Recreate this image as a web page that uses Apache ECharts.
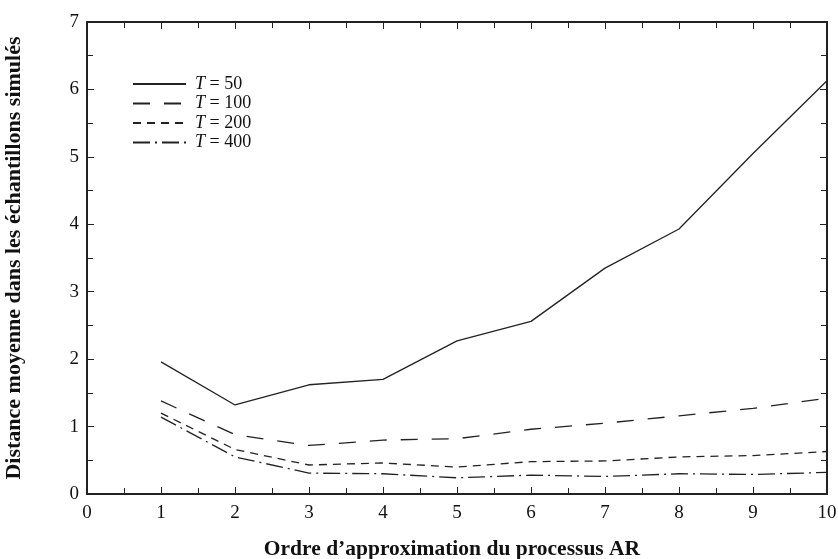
<!DOCTYPE html>
<html>
<head>
<meta charset="utf-8">
<script src="https://cdn.jsdelivr.net/npm/echarts@6/dist/echarts.min.js"></script>
<style>html,body{margin:0;padding:0;background:#fff;}#c{width:838px;height:559px;}</style>
</head>
<body>
<div id="c"></div>
<script>
var orders = [1, 2, 3, 4, 5, 6, 7, 8, 9, 10];
var t50  = [1.96, 1.32, 1.62, 1.70, 2.27, 2.56, 3.35, 3.93, 5.05, 6.13];
var t100 = [1.38, 0.88, 0.72, 0.80, 0.82, 0.96, 1.05, 1.16, 1.27, 1.42];
var t200 = [1.20, 0.66, 0.43, 0.46, 0.40, 0.48, 0.49, 0.55, 0.57, 0.63];
var t400 = [1.14, 0.55, 0.31, 0.30, 0.24, 0.28, 0.26, 0.30, 0.29, 0.32];
var seriesNames = ['T = 50', 'T = 100', 'T = 200', 'T = 400'];

function pairs(arr){ return orders.map(function(o,i){ return [o, arr[i]]; }); }
var font = 'Liberation Serif';
var axisCommon = {
  type: 'value', min: 0,
  axisLine: {show: true, onZero: false, lineStyle: {color: '#222', width: 2}},
  axisTick: {show: true, inside: true, length: 7, lineStyle: {color: '#222', width: 1}},
  minorTick: {show: true, splitNumber: 2, length: 6, lineStyle: {color: '#222', width: 1}},
  splitLine: {show: false},
  minorSplitLine: {show: false},
  axisLabel: {color: '#111', fontFamily: font, fontSize: 19}
};
function mk(o){
  var a = JSON.parse(JSON.stringify(axisCommon));
  for (var k in o) a[k] = o[k];
  return a;
}
var styles = [
  {type: 'solid'},
  {type: [17, 14]},
  {type: [8, 6]},
  {type: [17, 5, 2, 5]}
];
var data = [t50, t100, t200, t400];
var chart = echarts.init(document.getElementById('c'));
chart.setOption({
  animation: false,
  backgroundColor: '#fff',
  grid: {left: 87, right: 11, top: 22, bottom: 65, containLabel: false, outerBoundsMode: 'none'},
  legend: {
    left: 127, top: 70, orient: 'vertical', itemWidth: 53, itemHeight: 10, itemGap: 1.5,
    data: seriesNames,
    itemStyle: {opacity: 0},
    formatter: function(n){ return '{i|T}{n|' + n.slice(1) + '}'; },
    textStyle: {color: '#111', fontFamily: font, fontSize: 18,
      rich: {
        i: {fontStyle: 'italic', fontFamily: font, fontSize: 18, color: '#111', padding: [0, 0, 0, 4]},
        n: {fontFamily: font, fontSize: 18, color: '#111'}
      }}
  },
  xAxis: [
    mk({max: 10, interval: 1, position: 'bottom',
      axisLabel: {color: '#111', fontFamily: font, fontSize: 19, margin: 10},
      name: 'Ordre d\u2019approximation du processus AR', nameLocation: 'middle', nameGap: 44,
      nameTextStyle: {fontFamily: font, fontWeight: 'bold', fontSize: 21.5, color: '#111', padding: [0, 10, 0, 0]}}),
    mk({max: 10, interval: 1, position: 'top', axisLabel: {show: false}})
  ],
  yAxis: [
    mk({max: 7, interval: 1, position: 'left',
      name: 'Distance moyenne dans les \u00e9chantillons simul\u00e9s', nameLocation: 'middle', nameGap: 62,
      nameTextStyle: {fontFamily: font, fontWeight: 'bold', fontSize: 22, color: '#111'}}),
    mk({max: 7, interval: 1, position: 'right', axisLabel: {show: false}})
  ],
  series: data.map(function(d, i){
    return {
      name: seriesNames[i], type: 'line', data: pairs(d),
      symbol: 'none', showSymbol: false,
      lineStyle: {color: '#222', width: 1.3, type: styles[i].type},
      itemStyle: {color: '#222'}
    };
  })
});
</script>
</body>
</html>
